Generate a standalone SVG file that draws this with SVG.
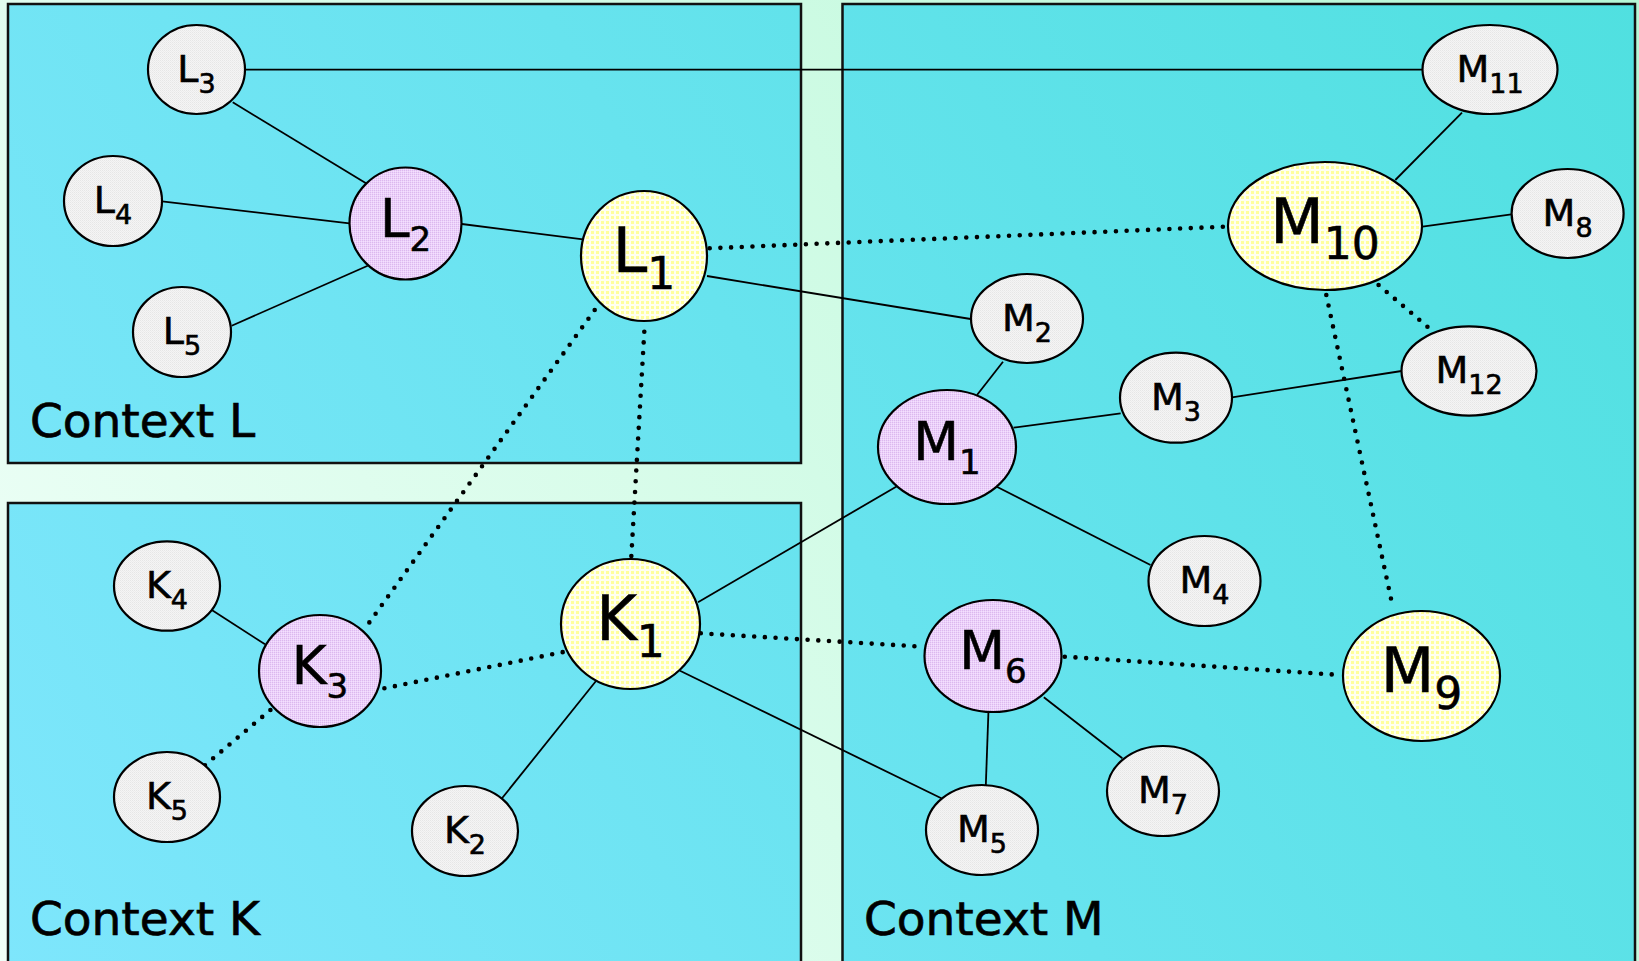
<svg xmlns="http://www.w3.org/2000/svg" width="1639" height="961" viewBox="0 0 1639 961">
<defs>
<linearGradient id="bg" gradientUnits="userSpaceOnUse" x1="1639" y1="0" x2="0" y2="961">
<stop offset="0" stop-color="#b6f8d6"/>
<stop offset="1" stop-color="#f0fff8"/>
</linearGradient>
<linearGradient id="boxfill" gradientUnits="userSpaceOnUse" x1="1639" y1="0" x2="0" y2="961">
<stop offset="0" stop-color="#50e0e0"/>
<stop offset="1" stop-color="#7ee6fc"/>
</linearGradient>
<pattern id="pGray" width="2" height="2" patternUnits="userSpaceOnUse">
<rect width="2" height="2" fill="#f5f5f5"/>
<rect width="1" height="1" fill="#e6e6e6"/>
<rect x="1" y="1" width="1" height="1" fill="#ececec"/>
</pattern>
<pattern id="pPurple" width="2" height="2" patternUnits="userSpaceOnUse">
<rect width="2" height="2" fill="#ecd2fa"/>
<rect width="1" height="1" fill="#dcb8ee"/>
<rect x="1" y="1" width="1" height="1" fill="#f4e0fe"/>
</pattern>
<pattern id="pYellow" width="5" height="5" patternUnits="userSpaceOnUse">
<rect width="5" height="5" fill="#fffff0"/>
<rect x="1" y="1" width="3" height="3" fill="#ffff9c"/>
</pattern>
<style>
.box{fill:url(#boxfill);stroke:#111;stroke-width:2.5}
.ctx{font-family:"DejaVu Sans",sans-serif;font-size:47px;fill:#000;stroke:#000;stroke-width:0.7}
.n ellipse{stroke:#000;stroke-width:2.2}
.s ellipse{fill:url(#pGray)}
.p ellipse{fill:url(#pPurple)}
.y ellipse{fill:url(#pYellow)}
.n text{font-family:"DejaVu Sans",sans-serif;fill:#000;stroke:#000;stroke-width:0.6;text-anchor:middle}
.s text{font-size:38px}
.s tspan{font-size:27px}
.p text{font-size:53px}
.p tspan{font-size:34px}
.y text{font-size:62px}
.y tspan{font-size:44px}
.solid{stroke:#000;stroke-width:1.8;fill:none}
.dot{stroke:#000;stroke-width:4.6;fill:none;stroke-linecap:round;stroke-dasharray:0 10.7}
</style>
</defs>
<rect width="1639" height="961" fill="url(#bg)"/>
<g id="contexts">
<g id="contextL"><rect class="box" x="8" y="4" width="793" height="459"/><text class="ctx" x="30" y="437">Context L</text></g>
<g id="contextK"><rect class="box" x="8" y="503" width="793" height="470"/><text class="ctx" x="30" y="935">Context K</text></g>
<g id="contextM"><rect class="box" x="842.5" y="4" width="792.5" height="970"/><text class="ctx" x="864" y="935">Context M</text></g>
</g>
<g id="connectors">
<line class="solid" x1="245" y1="69.7" x2="1423" y2="69.7"/>
<line class="solid" x1="232.7" y1="102.3" x2="366" y2="183.3"/>
<line class="solid" x1="162" y1="201.3" x2="349.4" y2="223.3"/>
<line class="solid" x1="231.7" y1="325.7" x2="367.7" y2="265.7"/>
<line class="solid" x1="461.8" y1="224" x2="583" y2="239.3"/>
<line class="solid" x1="707" y1="276" x2="970.6" y2="319"/>
<line class="solid" x1="1462" y1="112.7" x2="1395.3" y2="180"/>
<line class="solid" x1="1422.5" y1="226.7" x2="1511.4" y2="214.3"/>
<line class="solid" x1="1003" y1="361.7" x2="977" y2="395"/>
<line class="solid" x1="1013.5" y1="427.7" x2="1120.7" y2="413.3"/>
<line class="solid" x1="1232" y1="397.3" x2="1401.6" y2="371"/>
<line class="solid" x1="996.8" y1="486.7" x2="1150.5" y2="565"/>
<line class="solid" x1="698" y1="602.3" x2="897.4" y2="486"/>
<line class="solid" x1="680" y1="670.7" x2="941.3" y2="798.3"/>
<line class="solid" x1="596" y1="681" x2="502" y2="798.3"/>
<line class="solid" x1="211.8" y1="610" x2="265" y2="644.3"/>
<line class="solid" x1="988.4" y1="712.7" x2="985.8" y2="785.7"/>
<line class="solid" x1="1043.8" y1="697.3" x2="1122.3" y2="758.3"/>
<line class="dot" x1="709.7" y1="248.3" x2="1224.3" y2="226.7"/>
<line class="dot" x1="594.7" y1="310" x2="368.7" y2="623.3"/>
<line class="dot" x1="644.3" y1="331.7" x2="631.3" y2="556.7"/>
<line class="dot" x1="384.4" y1="688.3" x2="564.9" y2="651.7"/>
<line class="dot" x1="270.4" y1="710" x2="204" y2="766"/>
<line class="dot" x1="700.8" y1="633.3" x2="923" y2="646.7"/>
<line class="dot" x1="1064.8" y1="656.7" x2="1340.4" y2="675"/>
<line class="dot" x1="1326.3" y1="295" x2="1392.7" y2="606.7"/>
<line class="dot" x1="1378.6" y1="285" x2="1429.3" y2="328.3"/>
</g>
<g id="L3" class="n s"><ellipse cx="196.5" cy="69.5" rx="48.5" ry="44.5"/><text x="196.5" y="81.5">L<tspan dy="11">3</tspan></text></g>
<g id="L4" class="n s"><ellipse cx="113" cy="201" rx="49" ry="45"/><text x="113" y="213">L<tspan dy="11">4</tspan></text></g>
<g id="L5" class="n s"><ellipse cx="182" cy="332" rx="49" ry="45"/><text x="182" y="344">L<tspan dy="11">5</tspan></text></g>
<g id="L2" class="n p"><ellipse cx="405.5" cy="223.5" rx="56" ry="56"/><text x="405.5" y="237">L<tspan dy="14">2</tspan></text></g>
<g id="L1" class="n y"><ellipse cx="644" cy="256" rx="63" ry="65"/><text x="644" y="272">L<tspan dy="17">1</tspan></text></g>
<g id="M11" class="n s"><ellipse cx="1490" cy="69.5" rx="67.5" ry="44.5"/><text x="1490" y="81.5">M<tspan dy="11">11</tspan></text></g>
<g id="M10" class="n y"><ellipse cx="1325" cy="226" rx="97" ry="64"/><text x="1325" y="243">M<tspan dy="16">10</tspan></text></g>
<g id="M8" class="n s"><ellipse cx="1567.6" cy="213.5" rx="56" ry="44.5"/><text x="1567.6" y="225.5">M<tspan dy="11">8</tspan></text></g>
<g id="M2" class="n s"><ellipse cx="1027" cy="318.5" rx="56" ry="44.5"/><text x="1027" y="330.5">M<tspan dy="11">2</tspan></text></g>
<g id="M3" class="n s"><ellipse cx="1176" cy="397.7" rx="56" ry="45"/><text x="1176" y="409.7">M<tspan dy="11">3</tspan></text></g>
<g id="M12" class="n s"><ellipse cx="1469" cy="371" rx="67.5" ry="44.6"/><text x="1469" y="383">M<tspan dy="11">12</tspan></text></g>
<g id="M1" class="n p"><ellipse cx="947" cy="447" rx="69" ry="57"/><text x="947" y="460">M<tspan dy="14">1</tspan></text></g>
<g id="K4" class="n s"><ellipse cx="167" cy="586" rx="53" ry="44.7"/><text x="167" y="598">K<tspan dy="11">4</tspan></text></g>
<g id="K5" class="n s"><ellipse cx="167" cy="797" rx="53" ry="45"/><text x="167" y="809">K<tspan dy="11">5</tspan></text></g>
<g id="K3" class="n p"><ellipse cx="320" cy="671" rx="61" ry="56"/><text x="320" y="684">K<tspan dy="14">3</tspan></text></g>
<g id="K1" class="n y"><ellipse cx="630.5" cy="624" rx="69.5" ry="65"/><text x="630.5" y="640">K<tspan dy="17">1</tspan></text></g>
<g id="K2" class="n s"><ellipse cx="465" cy="831" rx="53" ry="45"/><text x="465" y="843">K<tspan dy="11">2</tspan></text></g>
<g id="M4" class="n s"><ellipse cx="1204.5" cy="581" rx="56" ry="45"/><text x="1204.5" y="593">M<tspan dy="11">4</tspan></text></g>
<g id="M6" class="n p"><ellipse cx="993" cy="656" rx="68.5" ry="56"/><text x="993" y="669">M<tspan dy="14">6</tspan></text></g>
<g id="M9" class="n y"><ellipse cx="1421.5" cy="676" rx="78.5" ry="65"/><text x="1421.5" y="692">M<tspan dy="17">9</tspan></text></g>
<g id="M7" class="n s"><ellipse cx="1163" cy="791" rx="56" ry="45"/><text x="1163" y="803">M<tspan dy="11">7</tspan></text></g>
<g id="M5" class="n s"><ellipse cx="982" cy="830" rx="56" ry="45"/><text x="982" y="842">M<tspan dy="11">5</tspan></text></g>
</svg>
